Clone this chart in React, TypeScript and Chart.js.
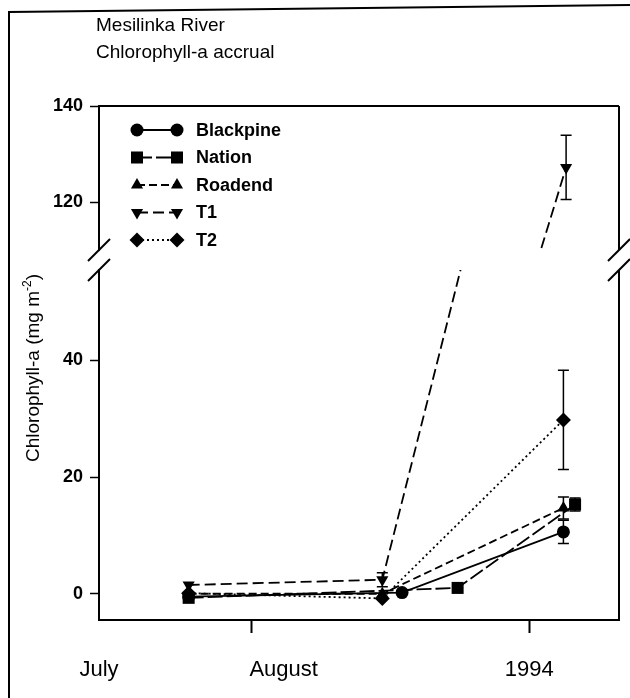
import React, { useEffect, useRef } from 'react';
import { Chart, registerables } from 'chart.js';

Chart.register(...registerables);

const FONT = '"Liberation Sans", Arial, Helvetica, sans-serif';

// ---------------- data ----------------
const titleLines = ['Mesilinka River', 'Chlorophyll-a accrual'];
const yAxisTitleParts = ['Chlorophyll-a (mg m', '-2', ')'];

const xMinDay = 196; // mid July
const xMaxDay = 254; // mid September
const xTickMarkDays = [213, 244];
const xLabelDays = [196, 216.6, 244];
const xLabelTexts = ['July', 'August', '1994'];

const upperRange = [110, 140];
const upperTicks = [120, 140];
const lowerRange = [-4.5, 55.5];
const lowerTicks = [0, 20, 40];

const seriesNames = ['Blackpine', 'Nation', 'Roadend', 'T1', 'T2'];

const blackpineDays = [206, 229.8, 247.8];
const blackpineValues = [-0.5, 0.2, 10.6];
const blackpineErrors = [0, 0, 2.0];

const nationDays = [206, 236, 249.1];
const nationValues = [-0.7, 1.0, 15.3];
const nationErrors = [0, 0, 1.1];

const roadendDays = [206, 227.6, 247.8];
const roadendValues = [0.0, 0.0, 14.7];
const roadendErrors = [0, 0, 1.9];

const t1Days = [206, 227.6, 248.1];
const t1Values = [1.5, 2.4, 127.2];
const t1Errors = [0, 1.2, 6.7];

const t2Days = [206, 227.6, 247.8];
const t2Values = [0.1, -0.8, 29.8];
const t2Errors = [0, 0, 8.5];

// ---------------- styles ----------------
const seriesList = [
  { name: seriesNames[0], days: blackpineDays, values: blackpineValues, errors: blackpineErrors, style: 'circle', rotation: 0, radius: 6.5, dash: [] as number[], width: 1.8 },
  { name: seriesNames[1], days: nationDays, values: nationValues, errors: nationErrors, style: 'rect', rotation: 0, radius: 8.5, dash: [15, 4], width: 1.8 },
  { name: seriesNames[2], days: roadendDays, values: roadendValues, errors: roadendErrors, style: 'triangle', rotation: 0, radius: 7, dash: [8, 4], width: 1.8 },
  { name: seriesNames[3], days: t1Days, values: t1Values, errors: t1Errors, style: 'triangle', rotation: 180, radius: 7, dash: [11, 5], width: 1.8 },
  { name: seriesNames[4], days: t2Days, values: t2Values, errors: t2Errors, style: 'rectRot', rotation: 0, radius: 7.5, dash: [2, 3], width: 1.8 },
];

function makeDataset(s: any, yAxisID: string) {
  return {
    label: s.name,
    data: s.days.map((d: number, i: number) => ({ x: d, y: s.values[i] })),
    errors: s.errors,
    xAxisID: 'x',
    yAxisID,
    borderColor: '#000',
    backgroundColor: '#000',
    borderWidth: s.width,
    borderDash: s.dash,
    borderCapStyle: 'butt',
    pointStyle: s.style,
    pointRotation: s.rotation,
    pointRadius: s.radius,
    pointBackgroundColor: '#000',
    pointBorderColor: '#000',
    pointBorderWidth: 0,
    tension: 0,
    fill: false,
  };
}

function markerPath(ctx: CanvasRenderingContext2D, style: string, x: number, y: number, r: number, rotationDeg: number) {
  ctx.beginPath();
  if (style === 'circle') {
    ctx.arc(x, y, r, 0, Math.PI * 2);
  } else if (style === 'rect') {
    const s = r * Math.SQRT1_2;
    ctx.rect(x - s, y - s, 2 * s, 2 * s);
  } else if (style === 'rectRot') {
    ctx.moveTo(x, y - r);
    ctx.lineTo(x + r, y);
    ctx.lineTo(x, y + r);
    ctx.lineTo(x - r, y);
    ctx.closePath();
  } else {
    let a = (rotationDeg * Math.PI) / 180;
    ctx.moveTo(x + Math.sin(a) * r, y - Math.cos(a) * r);
    a += (2 * Math.PI) / 3;
    ctx.lineTo(x + Math.sin(a) * r, y - Math.cos(a) * r);
    a += (2 * Math.PI) / 3;
    ctx.lineTo(x + Math.sin(a) * r, y - Math.cos(a) * r);
    ctx.closePath();
  }
  ctx.fill();
}

const brokenAxisPlugin = {
  id: 'brokenAxis',
  beforeDraw(chart: any) {
    const { ctx } = chart;
    ctx.save();
    ctx.fillStyle = '#fff';
    ctx.fillRect(0, 0, chart.width, chart.height);
    ctx.restore();
  },
  beforeDatasetDraw(chart: any, args: any) {
    const { ctx, chartArea: a } = chart;
    const ys = args.meta.yScale;
    ctx.save();
    ctx.beginPath();
    ctx.rect(a.left - 12, ys.top, a.right - a.left + 24, ys.bottom - ys.top);
    ctx.clip();
  },
  afterDatasetDraw(chart: any, args: any) {
    const { ctx } = chart;
    const ds = chart.data.datasets[args.index];
    const meta = args.meta;
    const ys = meta.yScale;
    ctx.strokeStyle = '#000';
    ctx.lineWidth = 1.5;
    ctx.setLineDash([]);
    meta.data.forEach((pt: any, i: number) => {
      const e = ds.errors ? ds.errors[i] : 0;
      if (!e) return;
      const v = ds.data[i].y;
      const yHi = ys.getPixelForValue(v + e);
      const yLo = ys.getPixelForValue(v - e);
      const x = pt.x;
      ctx.beginPath();
      ctx.moveTo(x, yHi);
      ctx.lineTo(x, yLo);
      ctx.moveTo(x - 5.5, yHi);
      ctx.lineTo(x + 5.5, yHi);
      ctx.moveTo(x - 5.5, yLo);
      ctx.lineTo(x + 5.5, yLo);
      ctx.stroke();
    });
    ctx.restore();
  },
  afterDraw(chart: any) {
    const { ctx, chartArea: a, scales } = chart;
    const top = scales.yTop;
    const low = scales.yLow;
    ctx.save();
    ctx.strokeStyle = '#000';
    ctx.fillStyle = '#000';
    ctx.lineWidth = 2;
    ctx.setLineDash([]);
    // outer figure frame
    ctx.beginPath();
    ctx.moveTo(9, chart.height);
    ctx.lineTo(9, 12);
    ctx.lineTo(chart.width, 5);
    ctx.stroke();
    // top and right borders
    ctx.beginPath();
    ctx.moveTo(a.left, a.top);
    ctx.lineTo(a.right, a.top);
    ctx.moveTo(a.right, a.top);
    ctx.lineTo(a.right, top.bottom);
    ctx.moveTo(a.right, low.top);
    ctx.lineTo(a.right, a.bottom);
    ctx.stroke();
    // break marks
    for (const x of [a.left, a.right]) {
      for (const y of [top.bottom, low.top]) {
        ctx.beginPath();
        ctx.moveTo(x - 11, y + 11);
        ctx.lineTo(x + 11, y - 11);
        ctx.stroke();
      }
    }
    // title
    ctx.font = `19px ${FONT}`;
    ctx.textAlign = 'left';
    ctx.textBaseline = 'alphabetic';
    ctx.fillText(titleLines[0], 96, 31);
    ctx.fillText(titleLines[1], 96, 58);
    // y axis title
    const cy = (a.top + a.bottom) / 2 + 5;
    ctx.save();
    ctx.translate(39, cy);
    ctx.rotate(-Math.PI / 2);
    const mainFont = `19px ${FONT}`;
    const supFont = `12px ${FONT}`;
    ctx.font = mainFont;
    const w1 = ctx.measureText(yAxisTitleParts[0]).width;
    const w3 = ctx.measureText(yAxisTitleParts[2]).width;
    ctx.font = supFont;
    const w2 = ctx.measureText(yAxisTitleParts[1]).width;
    let x0 = -(w1 + w2 + w3) / 2;
    ctx.font = mainFont;
    ctx.fillText(yAxisTitleParts[0], x0, 0);
    x0 += w1;
    ctx.font = supFont;
    ctx.fillText(yAxisTitleParts[1], x0, -8);
    x0 += w2;
    ctx.font = mainFont;
    ctx.fillText(yAxisTitleParts[2], x0, 0);
    ctx.restore();
    // legend
    ctx.font = `bold 18px ${FONT}`;
    ctx.textBaseline = 'middle';
    seriesList.forEach((s, i) => {
      const y = a.top + 24 + i * 27.5;
      const x1 = a.left + 38;
      const x2 = a.left + 78;
      ctx.lineWidth = s.width;
      ctx.setLineDash(s.dash);
      ctx.beginPath();
      ctx.moveTo(x1, y);
      ctx.lineTo(x2, y);
      ctx.stroke();
      ctx.setLineDash([]);
      markerPath(ctx, s.style, x1, y, s.radius, s.rotation);
      markerPath(ctx, s.style, x2, y, s.radius, s.rotation);
      ctx.fillText(s.name, a.left + 97, y + 1);
    });
    ctx.restore();
  },
};

const yTickFont = { family: FONT, size: 18, weight: 'bold' as const };

export default function App() {
  const ref = useRef<HTMLCanvasElement>(null);
  useEffect(() => {
    const datasets: any[] = seriesList.map((s) => makeDataset(s, 'yLow'));
    // T1 also continues in the upper (broken) panel of the axis
    datasets.push({ ...makeDataset(seriesList[3], 'yTop'), label: seriesNames[3] + ' (upper)' });

    const chart = new Chart(ref.current as HTMLCanvasElement, {
      type: 'line',
      data: { datasets },
      options: {
        responsive: false,
        devicePixelRatio: 1,
        animation: false,
        events: [],
        layout: { padding: { top: 106, right: 11, bottom: 0, left: 0 } },
        plugins: { legend: { display: false }, tooltip: { enabled: false }, title: { display: false } },
        scales: {
          x: {
            type: 'linear',
            position: 'bottom',
            min: xMinDay,
            max: xMaxDay,
            weight: 0,
            border: { display: true, color: '#000', width: 2 },
            grid: { display: true, drawOnChartArea: false, drawTicks: true, tickLength: 13, tickWidth: 2, tickColor: '#000' },
            ticks: { display: false },
            afterBuildTicks: (s: any) => { s.ticks = xTickMarkDays.map((v) => ({ value: v })); },
            afterFit: (s: any) => { s.height = 13; },
          },
          xLabels: {
            type: 'linear',
            position: 'bottom',
            min: xMinDay,
            max: xMaxDay,
            weight: 1,
            border: { display: false },
            grid: { display: false, drawTicks: false },
            ticks: {
              display: true,
              color: '#000',
              padding: 24,
              maxRotation: 0,
              autoSkip: false,
              font: { family: FONT, size: 22 },
              callback: (_v: any, i: number) => xLabelTexts[i],
            },
            afterBuildTicks: (s: any) => { s.ticks = xLabelDays.map((v) => ({ value: v })); },
            afterFit: (s: any) => { s.height = 65; },
          },
          yTop: {
            type: 'linear',
            position: 'left',
            stack: 'ybroken',
            stackWeight: 144,
            weight: 3,
            min: upperRange[0],
            max: upperRange[1],
            border: { display: true, color: '#000', width: 2 },
            grid: { display: true, drawOnChartArea: false, tickLength: 9, tickWidth: 1.5, tickColor: '#000' },
            ticks: { color: '#000', padding: 7, font: yTickFont },
            afterBuildTicks: (s: any) => { s.ticks = upperTicks.map((v) => ({ value: v })); },
            afterFit: (s: any) => { s.width = 99; },
          },
          yGap: {
            type: 'linear',
            position: 'left',
            stack: 'ybroken',
            stackWeight: 20,
            weight: 2,
            min: 0,
            max: 1,
            border: { display: false },
            grid: { display: false, drawTicks: false },
            ticks: { display: false },
            afterBuildTicks: (s: any) => { s.ticks = []; },
            afterFit: (s: any) => { s.width = 99; },
          },
          yLow: {
            type: 'linear',
            position: 'left',
            stack: 'ybroken',
            stackWeight: 350,
            weight: 1,
            min: lowerRange[0],
            max: lowerRange[1],
            border: { display: true, color: '#000', width: 2 },
            grid: { display: true, drawOnChartArea: false, tickLength: 9, tickWidth: 1.5, tickColor: '#000' },
            ticks: { color: '#000', padding: 7, font: yTickFont },
            afterBuildTicks: (s: any) => { s.ticks = lowerTicks.map((v) => ({ value: v })); },
            afterFit: (s: any) => { s.width = 99; },
          },
        },
      } as any,
      plugins: [brokenAxisPlugin],
    });
    return () => chart.destroy();
  }, []);

  return (
    <div style={{ position: 'absolute', left: 0, top: 0, width: 630, height: 698, background: '#fff' }}>
      <canvas ref={ref} width={630} height={698} style={{ display: 'block', width: 630, height: 698 }} />
    </div>
  );
}
